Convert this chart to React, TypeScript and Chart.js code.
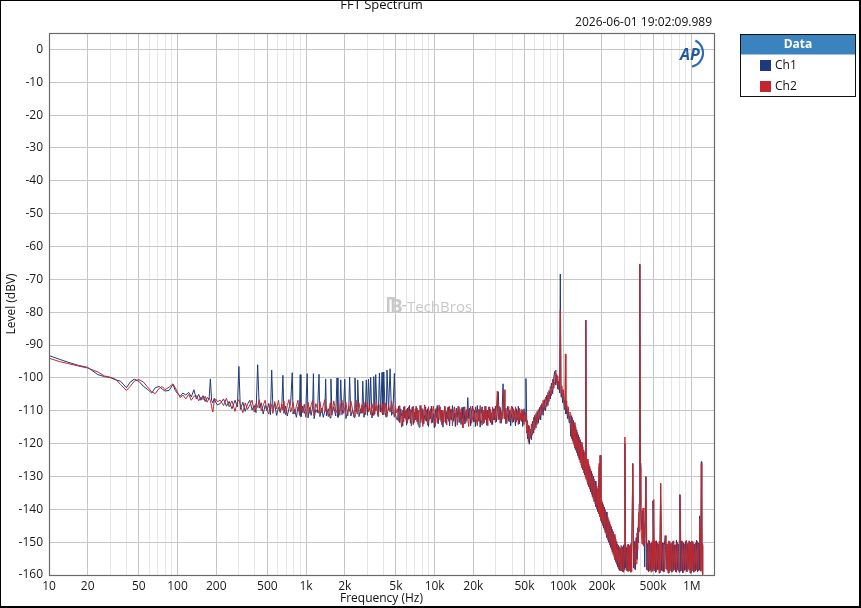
import { useEffect, useRef } from 'react';
import { Chart, registerables } from 'chart.js';

Chart.register(...registerables);

// frequency of every FFT point (Hz), shared by both channels
const freqHz = [
  // 10 Hz .. 200 Hz
  10, 12, 14, 17, 20, 24, 27, 30, 33, 36,
  40, 43, 46, 50, 54, 58, 63, 67, 72, 76,
  80, 86, 92, 96, 100, 105, 110, 116, 122, 128,
  134, 140, 146, 152, 158, 164, 170, 176, 180, 184,
  188, 193, 198, 204,
  // 200 Hz .. 5 kHz (mains harmonics comb)
  215, 228, 240, 252, 265, 280, 292, 300, 308, 322,
  336, 350, 365, 380, 395, 408, 420, 432, 448, 464,
  480, 496, 512, 528, 540, 552, 570, 590, 610, 630,
  648, 660, 672, 692, 714, 736, 758, 780, 792, 815,
  840, 865, 888, 900, 912, 940, 968, 995, 1020, 1035,
  1065, 1095, 1125, 1140, 1155, 1190, 1225, 1260, 1280, 1320,
  1360, 1400, 1420, 1440, 1490, 1540, 1560, 1590, 1640, 1700,
  1740, 1770, 1830, 1860, 1900, 1960, 2000, 2040, 2110, 2150,
  2180, 2230, 2300, 2360, 2400, 2450, 2490, 2520, 2580, 2660,
  2720, 2760, 2820, 2890, 2940, 3000, 3060, 3120, 3180, 3250,
  3320, 3360, 3420, 3480, 3560, 3640, 3720, 3800, 3900, 3960,
  4020, 4120, 4200, 4260, 4380, 4500, 4620, 4740, 4860, 4950,
  5050,
  // 5 kHz .. 47 kHz
  5150, 5250, 5350, 5450, 5550, 5650, 5750, 5850, 5950, 6050,
  6150, 6260, 6370, 6480, 6590, 6700, 6820, 6940, 7060, 7180,
  7300, 7430, 7560, 7690, 7820, 7950, 8090, 8230, 8370, 8510,
  8660, 8810, 8960, 9120, 9280, 9440, 9600, 9770, 9940, 10110,
  10290, 10470, 10650, 10830, 11020, 11210, 11400, 11600, 11800, 12000,
  12210, 12420, 12630, 12850, 13070, 13300, 13530, 13760, 14000, 14240,
  14490, 14740, 14990, 15250, 15510, 15780, 16050, 16330, 16610, 16900,
  17190, 17490, 17790, 18100, 18410, 18730, 19050, 19380, 19710, 20050,
  20400, 20750, 21110, 21470, 21840, 22220, 22600, 22990, 23390, 23790,
  24200, 24620, 25040, 25470, 25910, 26360, 26810, 27270, 27740, 28220,
  28710, 29200, 29700, 30210, 30730, 31260, 31800, 32350, 32910, 33480,
  34060, 34650, 35250, 35860, 36480, 37110, 37750, 38400, 39060, 39730,
  40410, 41110, 41820, 42540, 43270, 44010, 44770, 45540, 46320, 47120,
  // 47 kHz .. 113 kHz
  47800, 48400, 49600, 50800, 51300, 52000, 52800, 53600, 54500, 55500,
  56600, 57700, 58900, 60100, 61400, 62700, 64000, 65400, 66800, 68300,
  69800, 71300, 72900, 74500, 76100, 77700, 79400, 81100, 82800, 84500,
  86000, 87600, 89200, 90800, 92400, 93800, 95000, 96200, 97600, 99000,
  100500, 102000, 103200, 104000, 105000, 106500, 108000, 109600, 111200, 112800,
  // 114 kHz .. 320 kHz
  114500, 116200, 118000, 119800, 121600, 123500, 125400, 127400, 129400, 131400,
  133500, 135600, 137800, 140000, 142200, 144500, 146800, 149000, 150000, 151000,
  153400, 155800, 158300, 160800, 163400, 166000, 168600, 171300, 174000, 176800,
  179600, 182500, 185400, 188300, 190500, 192000, 194000, 196200, 199300, 202500,
  205700, 209000, 212300, 215700, 219100, 222600, 226200, 229800, 233500, 237200,
  241000, 244800, 248700, 252700, 256700, 260800, 265000, 269200, 273500, 277900,
  282300, 286800, 291400, 296000, 300700, 302000, 305500, 310300, 315300, 320300,
  // 325 kHz .. 1.22 MHz
  325500, 330700, 336000, 341400, 348000, 353000, 358500, 364000, 369500, 375000,
  380500, 385500, 390000, 393500, 395500, 397500, 401000, 406000, 412000, 418000,
  424000, 431000, 440000, 447000, 454000, 461000, 468000, 476000, 484000, 492000,
  499000, 507000, 515000, 523000, 531000, 540000, 549000, 558000, 566000, 573000,
  582000, 592000, 602000, 612000, 622000, 632000, 643000, 654000, 665000, 676000,
  688000, 700000, 712000, 724000, 736000, 748000, 760000, 773000, 786000, 799000,
  809000, 822000, 836000, 850000, 864000, 878000, 893000, 908000, 923000, 938000,
  954000, 970000, 986000, 1003000, 1020000, 1037000, 1054000, 1072000, 1090000, 1108000,
  1126000, 1140000, 1152000, 1164000, 1176000, 1188000, 1196000, 1204000, 1212000, 1220000,
];

// Ch1 level (dBV)
const ch1Level = [
  -93.2, -94.3, -95.2, -96.2, -96.8, -99.0, -99.6, -99.9, -100.6, -101.0,
  -103.0, -101.2, -100.4, -101.0, -102.5, -103.4, -104.6, -103.0, -102.6, -103.4,
  -104.0, -103.8, -102.0, -103.8, -104.8, -105.6, -104.6, -105.2, -104.4, -105.8,
  -103.6, -106.4, -105.0, -106.8, -105.4, -107.2, -106.0, -106.4, -100.3, -106.8,
  -107.6, -106.2, -107.4, -108.2,

  -107.8, -106.4, -108.6, -107.2, -109.4, -106.8, -108.8, -96.5, -109.6, -107.4,
  -110.2, -108.0, -106.8, -109.8, -108.4, -110.6, -96.0, -109.2, -107.6, -111.0,
  -108.4, -110.0, -107.8, -111.2, -97.6, -109.4, -108.0, -111.4, -109.0, -110.4,
  -108.2, -99.2, -110.8, -108.6, -111.6, -109.2, -107.8, -98.4, -111.0, -109.6,
  -112.0, -108.8, -110.4, -99.0, -111.8, -108.6, -110.8, -109.4, -98.7, -112.2,
  -109.0, -111.4, -108.8, -98.7, -112.4, -109.6, -110.6, -98.9, -111.8, -109.2,
  -112.0, -110.0, -100.3, -111.6, -109.4, -112.2, -100.3, -110.8, -108.8, -111.6,
  -100.0, -112.0, -109.6, -100.6, -111.2, -108.4, -100.4, -112.4, -110.0, -108.8,
  -99.8, -111.6, -109.8, -112.0, -100.0, -110.4, -108.6, -100.6, -111.8, -109.4,
  -110.8, -101.0, -112.0, -109.6, -100.6, -111.4, -100.4, -109.8, -99.8, -112.2,
  -110.0, -99.6, -111.0, -99.0, -109.6, -111.8, -98.5, -110.4, -98.3, -111.2,
  -98.2, -110.6, -112.0, -97.6, -109.8, -97.2, -111.4, -110.2, -98.6, -110.8,
  -112.6,

  -112.8, -108.6, -113.6, -109.4, -111.8, -114.6, -108.8, -112.2, -110.0, -114.4,
  -109.2, -112.6, -108.4, -113.8, -110.6, -108.8, -114.2, -110.4, -112.8, -108.6,
  -113.4, -109.8, -115.0, -110.8, -108.4, -112.6, -109.6, -114.0, -111.2, -108.8,
  -113.2, -109.4, -114.8, -110.2, -112.4, -108.6, -113.6, -110.8, -115.2, -109.6,
  -112.2, -108.4, -114.0, -110.6, -108.8, -113.4, -109.8, -115.0, -111.0, -108.6,
  -113.8, -110.2, -112.4, -108.8, -114.6, -109.6, -112.8, -108.4, -113.2, -110.6,
  -114.8, -109.2, -112.0, -108.6, -113.6, -110.4, -114.2, -109.0, -112.6, -108.8,
  -114.0, -110.2, -113.0, -106.0, -112.4, -109.2, -114.6, -110.0, -108.6, -113.4,
  -109.8, -114.8, -110.8, -108.4, -113.2, -109.6, -115.0, -111.2, -108.8, -113.8,
  -110.4, -112.6, -108.6, -114.4, -109.8, -112.2, -108.8, -113.6, -110.6, -114.2,
  -109.4, -112.8, -108.6, -113.4, -110.2, -104.2, -112.6, -109.0, -113.8, -110.4,
  -101.8, -112.4, -109.2, -114.0, -110.6, -108.6, -113.2, -109.8, -114.6, -111.0,
  -108.8, -113.4, -110.2, -114.6, -109.4, -112.8, -108.6, -114.0, -110.8, -113.2,

  -110.6, -114.8, -109.4, -113.2, -100.2, -112.0, -118.6, -114.4, -120.2, -115.6,
  -118.8, -113.2, -116.8, -111.4, -115.2, -110.2, -113.8, -109.0, -112.8, -107.8,
  -111.4, -106.6, -110.0, -105.2, -108.4, -103.8, -106.4, -101.6, -104.8, -99.8,
  -98.0, -102.2, -99.0, -103.4, -101.0, -104.6, -68.4, -105.8, -103.6, -107.6,
  -104.6, -109.6, -106.8, -107.8, -111.0, -108.4, -112.4, -110.0, -113.6, -111.6,

  -117.8, -111.5, -119.1, -112.9, -120.6, -114.4, -122.0, -115.8, -123.6, -117.3,
  -125.0, -118.8, -126.6, -120.3, -128.0, -121.9, -129.6, -123.3, -82.4, -124.0,
  -131.7, -125.4, -133.2, -126.9, -134.7, -128.4, -136.2, -129.9, -137.7, -131.4,
  -139.2, -132.9, -140.7, -134.4, -127.0, -135.3, -123.6, -136.4, -144.1, -137.9,
  -145.6, -139.3, -147.1, -140.8, -148.6, -142.4, -150.1, -143.8, -151.6, -145.3,
  -153.1, -146.8, -154.6, -148.3, -156.1, -149.8, -157.6, -151.0, -158.6, -151.8,
  -158.8, -151.4, -159.0, -150.8, -158.4, -120.0, -157.8, -151.6, -158.8, -150.6,

  -158.6, -151.2, -159.2, -150.6, -126.0, -157.8, -149.8, -158.4, -148.6, -155.2,
  -145.6, -150.2, -138.4, -128.2, -65.3, -126.0, -138.8, -146.2, -140.4, -150.8,
  -144.0, -157.6, -130.0, -158.4, -150.4, -159.0, -149.6, -158.6, -150.2, -158.8,
  -137.4, -158.0, -150.0, -159.2, -149.6, -158.4, -150.6, -159.4, -149.8, -132.4,
  -158.6, -150.2, -159.0, -151.0, -148.0, -158.2, -150.6, -159.4, -149.6, -158.8,
  -150.4, -159.2, -149.8, -158.6, -150.8, -159.0, -149.4, -158.4, -150.6, -159.2,
  -135.6, -158.8, -149.6, -159.4, -150.2, -158.6, -149.8, -159.0, -150.4, -158.2,
  -149.6, -159.4, -150.0, -158.6, -149.8, -159.2, -150.6, -158.8, -149.4, -159.0,
  -150.2, -158.4, -142.0, -158.8, -149.8, -125.5, -150.6, -158.4, -151.0, -159.6,
];

// Ch2 level (dBV)
const ch2Level = [
  -94.0, -95.0, -95.6, -96.4, -97.0, -98.2, -99.4, -99.8, -100.4, -102.0,
  -103.8, -102.5, -101.0, -100.5, -101.2, -102.6, -104.2, -104.8, -103.2, -102.6,
  -103.6, -102.8, -101.8, -103.0, -104.4, -106.0, -105.2, -106.4, -105.0, -106.8,
  -105.6, -105.4, -107.0, -105.8, -106.6, -105.6, -107.4, -106.2, -106.8, -108.8,
  -110.4, -107.0, -106.4, -107.2,

  -106.8, -108.4, -106.2, -108.8, -107.0, -110.2, -107.4, -106.6, -108.2, -110.6,
  -107.6, -109.6, -108.2, -106.8, -110.4, -107.8, -109.0, -106.6, -110.0, -108.4,
  -106.8, -109.8, -111.0, -107.6, -108.6, -110.8, -107.2, -109.4, -106.8, -110.6,
  -108.0, -109.8, -107.0, -111.2, -108.4, -106.6, -110.4, -108.8, -107.4, -111.0,
  -108.6, -106.8, -111.4, -109.0, -107.6, -110.6, -108.0, -112.0, -109.2, -107.4,
  -110.8, -108.2, -106.8, -109.6, -111.6, -107.8, -109.4, -110.8, -107.2, -110.6,
  -108.4, -106.6, -110.2, -108.8, -111.8, -107.6, -109.2, -111.4, -107.0, -109.8,
  -110.6, -107.8, -111.4, -108.2, -106.8, -110.8, -109.0, -107.4, -111.6, -108.6,
  -110.2, -107.0, -109.8, -111.8, -108.0, -106.8, -111.0, -109.2, -107.6, -110.8,
  -108.2, -110.6, -107.4, -111.2, -109.0, -107.0, -110.4, -108.6, -111.2, -107.8,
  -109.6, -111.4, -107.2, -110.0, -108.4, -111.6, -109.0, -107.4, -110.8, -108.0,
  -111.2, -107.6, -109.6, -111.8, -108.2, -110.4, -107.0, -109.8, -112.0, -108.4,
  -110.6,

  -109.4, -113.2, -108.4, -112.8, -115.0, -109.8, -113.4, -108.6, -112.6, -109.6,
  -113.8, -108.8, -112.4, -109.6, -114.6, -111.2, -108.6, -113.6, -109.4, -112.8,
  -109.2, -114.2, -110.2, -108.4, -113.6, -109.2, -114.8, -110.6, -108.2, -113.0,
  -109.8, -114.4, -108.8, -112.6, -109.4, -113.8, -110.2, -108.6, -112.4, -114.8,
  -109.2, -113.6, -110.4, -108.2, -112.8, -109.8, -114.2, -110.0, -113.4, -108.8,
  -110.6, -114.4, -109.0, -113.2, -108.6, -112.6, -109.6, -114.6, -110.4, -108.8,
  -112.4, -109.8, -114.4, -110.6, -108.8, -113.0, -109.4, -112.8, -115.2, -109.6,
  -108.8, -113.6, -109.6, -112.6, -114.8, -110.4, -108.6, -113.8, -112.2, -109.4,
  -113.4, -108.8, -112.8, -114.6, -109.6, -113.2, -108.4, -112.6, -114.4, -109.8,
  -113.6, -108.6, -112.8, -109.8, -114.6, -108.8, -113.0, -109.6, -114.2, -108.8,
  -112.8, -109.4, -113.6, -109.2, -104.0, -112.8, -108.6, -113.8, -110.2, -112.6,
  -108.8, -103.6, -112.4, -109.2, -113.8, -110.4, -108.8, -113.4, -110.0, -108.6,
  -113.6, -109.4, -112.6, -108.8, -113.4, -110.2, -114.2, -109.2, -112.8, -109.6,

  -113.0, -109.8, -114.2, -110.6, -112.4, -116.8, -113.0, -119.6, -114.6, -118.4,
  -114.0, -117.4, -112.0, -115.8, -110.8, -114.2, -109.6, -112.6, -108.4, -111.2,
  -106.8, -109.8, -105.8, -108.8, -104.4, -107.2, -102.6, -105.4, -100.4, -103.2,
  -101.0, -97.6, -101.6, -99.4, -103.6, -101.2, -79.3, -104.8, -102.4, -106.0,
  -103.6, -108.0, -105.4, -92.7, -109.6, -107.0, -111.0, -108.8, -112.6, -110.4,

  -110.8, -118.5, -112.1, -119.9, -113.6, -121.4, -115.0, -122.8, -116.6, -124.3,
  -118.0, -125.8, -119.6, -127.3, -121.0, -128.9, -122.6, -130.3, -82.4, -131.0,
  -124.7, -132.4, -126.2, -133.9, -127.7, -135.4, -129.2, -136.9, -130.7, -138.4,
  -132.2, -139.9, -133.7, -141.4, -126.0, -142.3, -123.6, -143.4, -137.1, -144.9,
  -138.6, -146.3, -140.1, -147.8, -141.6, -149.4, -143.1, -150.8, -144.6, -152.3,
  -146.1, -153.8, -147.6, -155.3, -149.1, -156.8, -150.6, -158.2, -151.4, -158.8,
  -151.0, -158.4, -151.8, -159.2, -150.6, -118.0, -151.4, -158.6, -150.8, -159.0,

  -151.0, -158.8, -150.4, -159.0, -126.4, -150.2, -158.2, -149.6, -156.6, -147.2,
  -152.4, -141.0, -146.8, -129.6, -65.6, -127.2, -140.6, -147.8, -150.6, -139.6,
  -151.2, -148.4, -130.2, -150.0, -158.6, -149.4, -158.8, -150.4, -159.2, -149.8,
  -158.4, -137.0, -158.8, -149.6, -159.0, -150.2, -158.4, -149.8, -159.2, -132.0,
  -149.6, -158.8, -150.2, -159.0, -150.8, -148.0, -158.6, -150.4, -159.2, -149.8,
  -158.6, -150.2, -159.0, -149.6, -158.4, -150.8, -159.2, -150.0, -158.8, -149.6,
  -135.5, -150.4, -158.8, -149.8, -159.2, -150.6, -158.4, -149.4, -159.0, -150.2,
  -158.6, -150.0, -159.2, -149.6, -158.8, -150.4, -159.0, -150.2, -158.4, -149.8,
  -158.8, -150.6, -143.0, -150.2, -158.6, -126.0, -149.8, -158.6, -150.4, -160.0,
];

// x grid lines (Hz) and which of them get a label
const xTickHz = [
  10, 20, 30, 40, 50, 60, 70, 80, 90,
  100, 200, 300, 400, 500, 600, 700, 800, 900,
  1000, 2000, 3000, 4000, 5000, 6000, 7000, 8000, 9000,
  10000, 20000, 30000, 40000, 50000, 60000, 70000, 80000, 90000,
  100000, 200000, 300000, 400000, 500000, 600000, 700000, 800000, 900000,
  1000000,
];
const xTickLabels: Record<number, string> = {
  10: '10', 20: '20', 50: '50', 100: '100', 200: '200', 500: '500',
  1000: '1k', 2000: '2k', 5000: '5k', 10000: '10k', 20000: '20k', 50000: '50k',
  100000: '100k', 200000: '200k', 500000: '500k', 1000000: '1M',
};
const yTickDb = [0, -10, -20, -30, -40, -50, -60, -70, -80, -90, -100, -110, -120, -130, -140, -150, -160];

const seriesNames = ['Ch1', 'Ch2'];
const seriesColors = ['#1d3b7c', '#c0282e'];

const FONT = '"Open Sans", "Noto Sans", sans-serif';

const decorations = {
  id: 'decorations',
  beforeDraw(chart: any) {
    const { ctx, width, height } = chart;
    ctx.save();
    ctx.fillStyle = '#ffffff';
    ctx.fillRect(0, 0, width, height);
    ctx.restore();
  },
  beforeDatasetsDraw(chart: any) {
    const { ctx } = chart;
    ctx.save();
    // faint watermark
    ctx.fillStyle = '#c9c9c9';
    ctx.font = `bold 19px ${FONT}`;
    ctx.textBaseline = 'alphabetic';
    ctx.fillText('B', 390, 313);
    ctx.fillRect(387, 297, 9, 2.5);
    ctx.fillRect(387, 297, 2.5, 16);
    ctx.fillRect(402, 305, 4, 1.5);
    ctx.font = `15px ${FONT}`;
    ctx.fillText('TechBros', 407, 312);
    ctx.restore();
  },
  afterDraw(chart: any) {
    const { ctx, chartArea: a, width, height } = chart;
    ctx.save();
    // plot frame
    ctx.strokeStyle = '#6a6a6a';
    ctx.lineWidth = 1.2;
    ctx.strokeRect(a.left + 0.5, a.top + 0.5, a.right - a.left, a.bottom - a.top);

    // outer frame
    ctx.strokeStyle = '#000000';
    ctx.lineWidth = 2;
    ctx.strokeRect(0, 0, width - 1, height - 1);

    ctx.fillStyle = '#111111';
    // title
    ctx.font = `13px ${FONT}`;
    ctx.textAlign = 'center';
    ctx.textBaseline = 'alphabetic';
    ctx.fillText('FFT Spectrum', (a.left + a.right) / 2, 9);

    // timestamp
    ctx.font = `12px ${FONT}`;
    ctx.textAlign = 'right';
    ctx.fillText('2026-06-01 19:02:09.989', a.right - 2, 26);

    // axis titles
    ctx.textAlign = 'center';
    ctx.fillText('Frequency (Hz)', (a.left + a.right) / 2, 602);
    ctx.save();
    ctx.translate(15, (a.top + a.bottom) / 2);
    ctx.rotate(-Math.PI / 2);
    ctx.fillText('Level (dBV)', 0, 0);
    ctx.restore();

    // AP logo
    ctx.fillStyle = '#1f5aa0';
    ctx.font = `italic bold 16px ${FONT}`;
    ctx.textAlign = 'left';
    ctx.fillText('AP', 680, 60);
    ctx.strokeStyle = '#2a6cb3';
    ctx.lineWidth = 2.2;
    ctx.beginPath();
    ctx.arc(689, 53, 14, -1.1, 1.35);
    ctx.stroke();

    // legend box
    const lx = 740.5, ly = 34.5, lw = 115, lh = 62;
    ctx.fillStyle = '#ffffff';
    ctx.fillRect(lx, ly, lw, lh);
    ctx.fillStyle = '#3a83bf';
    ctx.fillRect(lx, ly, lw, 20);
    ctx.strokeStyle = '#111111';
    ctx.lineWidth = 1;
    ctx.strokeRect(lx, ly, lw, lh);
    ctx.fillStyle = '#ffffff';
    ctx.font = `bold 12px ${FONT}`;
    ctx.textAlign = 'center';
    ctx.textBaseline = 'middle';
    ctx.fillText('Data', lx + lw / 2, ly + 10);
    ctx.font = `12px ${FONT}`;
    ctx.textAlign = 'left';
    seriesNames.forEach((name, i) => {
      const cy = 65.5 + i * 21;
      ctx.fillStyle = seriesColors[i];
      ctx.fillRect(760, cy - 5.5, 11, 11);
      ctx.fillStyle = '#111111';
      ctx.fillText(name, 775, cy + 0.5);
    });
    ctx.restore();
  },
};

export default function App() {
  const canvasRef = useRef<HTMLCanvasElement | null>(null);

  useEffect(() => {
    const n = Math.min(freqHz.length, ch1Level.length, ch2Level.length);
    const pts = (levels: number[]) =>
      freqHz.slice(0, n).map((f, i) => ({ x: f, y: levels[i] }));

    const chart = new Chart(canvasRef.current!, {
      type: 'line',
      data: {
        datasets: [
          {
            label: seriesNames[0],
            data: pts(ch1Level),
            borderColor: seriesColors[0],
            borderWidth: 1,
            pointRadius: 0,
            tension: 0,
            order: 1,
          },
          {
            label: seriesNames[1],
            data: pts(ch2Level),
            borderColor: seriesColors[1],
            borderWidth: 1,
            pointRadius: 0,
            tension: 0,
            order: 0,
          },
        ],
      },
      options: {
        animation: false,
        responsive: false,
        devicePixelRatio: 1,
        layout: { padding: { top: 33, left: 0, right: 147, bottom: 0 } },
        plugins: {
          legend: { display: false },
          title: { display: false },
          tooltip: { enabled: false },
        },
        scales: {
          x: {
            type: 'logarithmic',
            min: 10,
            max: 1490000,
            border: { display: false },
            afterBuildTicks: (scale: any) => {
              scale.ticks = xTickHz.map((v) => ({ value: v }));
            },
            afterFit: (scale: any) => {
              scale.height = 33;
            },
            grid: {
              drawTicks: false,
              color: (c: any) => (c.tick && xTickLabels[c.tick.value] ? '#c6c6c6' : '#e6e6e6'),
            },
            ticks: {
              autoSkip: false,
              maxRotation: 0,
              padding: 4,
              color: '#1a1a1a',
              font: { family: FONT, size: 12 },
              callback: (v: any) => xTickLabels[Number(v)] ?? '',
            },
          },
          y: {
            type: 'linear',
            min: -160,
            max: 5,
            border: { display: false },
            afterBuildTicks: (scale: any) => {
              scale.ticks = yTickDb.map((v) => ({ value: v }));
            },
            afterFit: (scale: any) => {
              scale.width = 49;
            },
            grid: { drawTicks: false, color: '#c6c6c6' },
            ticks: {
              padding: 6,
              color: '#1a1a1a',
              font: { family: FONT, size: 12 },
              callback: (v: any) => String(v),
            },
          },
        },
      },
      plugins: [decorations],
    });

    return () => {
      chart.destroy();
    };
  }, []);

  return (
    <div style={{ position: 'fixed', left: 0, top: 0, width: 861, height: 608 }}>
      <canvas ref={canvasRef} width={861} height={608} style={{ width: 861, height: 608 }} />
    </div>
  );
}
